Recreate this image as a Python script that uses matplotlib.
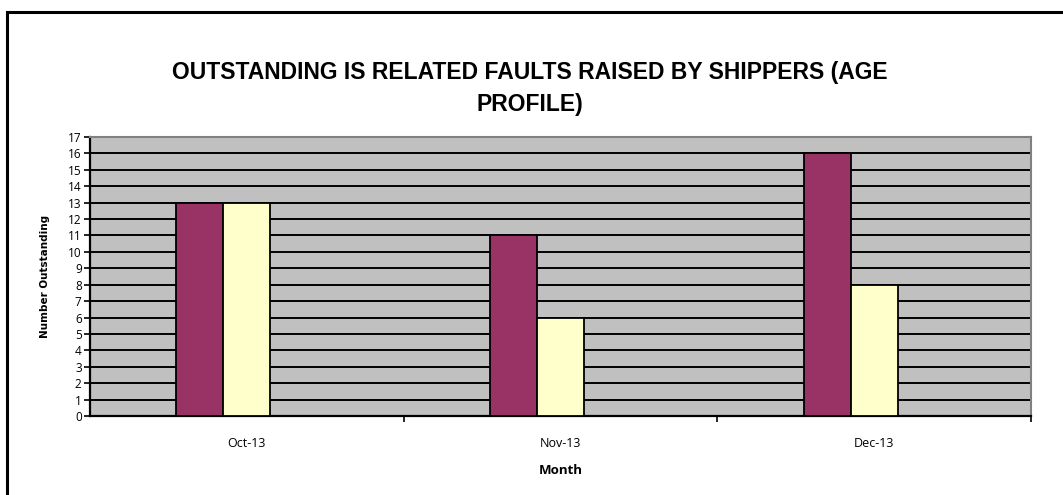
import numpy as np
import matplotlib.pyplot as plt
from matplotlib.patches import Rectangle

months = ['Oct-13', 'Nov-13', 'Dec-13']
series_a = [13, 11, 16]
series_b = [13, 6, 8]
series_c = [0, 0, 0]  # empty third series, keeps the Excel-style offset
colors = ['#993366', '#FFFFCC', '#CCFFFF']

fig = plt.figure(figsize=(10.63, 4.95), dpi=100)
ax = fig.add_axes([90 / 1063, 79 / 495, 941 / 1063, 279 / 495])

# outer chart border
fig.patches.append(Rectangle((7 / 1063, -0.05), 1.1, (495 - 12) / 495 + 0.05,
                             transform=fig.transFigure, fill=False,
                             edgecolor='black', linewidth=2.2))

x = np.arange(len(months))
w = 0.15
for i, (vals, c) in enumerate(zip([series_a, series_b, series_c], colors)):
    ax.bar(x + (i - 1) * w, vals, width=w, color=c, edgecolor='black',
           linewidth=1.3, zorder=3)

ax.set_facecolor('#C0C0C0')
ax.set_xlim(-0.5, 2.5)
ax.set_ylim(0, 17)
ax.set_yticks(range(0, 18))
ax.yaxis.grid(True, color='black', linewidth=1.4, zorder=1)
ax.set_axisbelow(True)

ax.set_xticks(x)
ax.set_xticklabels(months, fontfamily='Open Sans', fontsize=9)
ax.set_xticks([0.5, 1.5, 2.5], minor=True)
ax.tick_params(axis='x', which='major', length=0, pad=15)
ax.tick_params(axis='x', which='minor', length=4, width=1.2, direction='out')
ax.tick_params(axis='y', length=4, width=1.2, direction='out', pad=2, labelsize=8.5)
for lab in ax.get_yticklabels():
    lab.set_fontfamily('Open Sans')

for s in ['left', 'bottom']:
    ax.spines[s].set_color('black')
    ax.spines[s].set_linewidth(1.6)
for s in ['top', 'right']:
    ax.spines[s].set_color('#808080')
    ax.spines[s].set_linewidth(1.5)

ax.set_xlabel('Month', fontfamily='Open Sans', fontweight='bold',
              fontsize=9.5, labelpad=10)
ax.set_ylabel('Number Outstanding', fontfamily='Liberation Sans Narrow',
              fontweight='bold', fontsize=7.5, labelpad=13)

fig.text(530 / 1063, 1 - 88 / 495,
         'OUTSTANDING IS RELATED FAULTS RAISED BY SHIPPERS (AGE\nPROFILE)',
         ha='center', va='center', fontfamily='Liberation Sans',
         fontweight='bold', fontsize=16.5, linespacing=1.5)

fig.savefig('out.png', dpi=100)
